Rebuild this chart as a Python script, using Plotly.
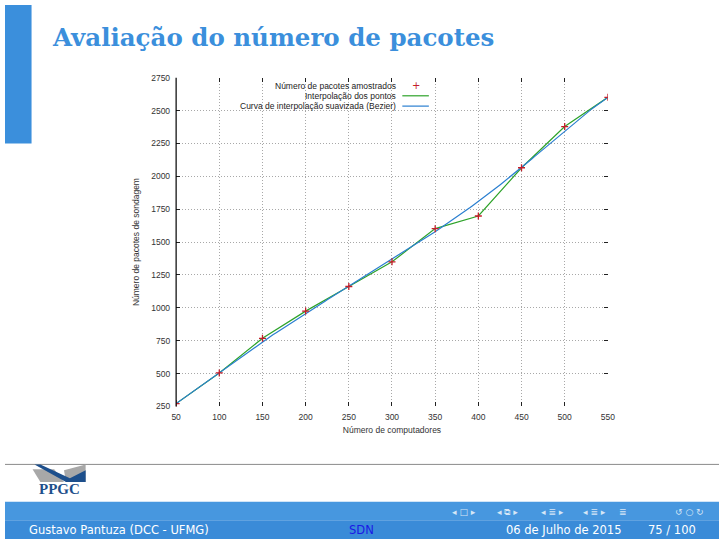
import plotly.graph_objects as go
from math import comb

# ---- data ----
computadores = [50, 100, 150, 200, 250, 300, 350, 400, 450, 500, 550]
pacotes = [272, 505, 768, 975, 1162, 1350, 1602, 1698, 2065, 2378, 2600]
x_ticks = [50, 100, 150, 200, 250, 300, 350, 400, 450, 500, 550]
y_ticks = [250, 500, 750, 1000, 1250, 1500, 1750, 2000, 2250, 2500, 2750]

nome_pontos = "Número de pacotes amostrados"
nome_interp = "Interpolação dos pontos"
nome_bezier = "Curva de interpolação suavizada (Bezier)"
titulo = "Avaliação do número de pacotes"
x_titulo = "Número de computadores"
y_titulo = "Número de pacotes de sondagem"

# Bezier curve using the samples as control points (gnuplot "smooth bezier")
n = len(computadores) - 1
bx, by = [], []
for k in range(201):
    t = k / 200
    w = [comb(n, i) * (1 - t) ** (n - i) * t ** i for i in range(n + 1)]
    bx.append(sum(wi * xi for wi, xi in zip(w, computadores)))
    by.append(sum(wi * yi for wi, yi in zip(w, pacotes)))

W, H = 726, 544
def px(x): return x / W
def py(y): return 1 - y / H

GREEN = "#2ea32a"
BLUE = "#2a7fd0"
RED = "#c41e2a"
SLIDE_BLUE = "#3b8fdc"

fig = go.Figure()
fig.add_trace(go.Scatter(x=computadores, y=pacotes, mode="lines",
                         line=dict(color=GREEN, width=1.2), showlegend=False))
fig.add_trace(go.Scatter(x=bx, y=by, mode="lines",
                         line=dict(color=BLUE, width=1.2), showlegend=False))
fig.add_trace(go.Scatter(x=computadores, y=pacotes, mode="markers",
                         marker=dict(symbol="cross-thin", size=5, color=RED,
                                     line=dict(color=RED, width=1.3)),
                         showlegend=False))

axis_font = dict(family="Liberation Sans", size=8.5, color="#333")
grid = dict(gridcolor="#a8a8a8", griddash="1px,2px", gridwidth=1)
fig.update_layout(
    width=W, height=H, margin=dict(l=0, r=0, t=0, b=0),
    paper_bgcolor="white", plot_bgcolor="white", showlegend=False,
    xaxis=dict(domain=[px(174), px(613)], range=[50, 550], tickvals=x_ticks,
               ticks="inside", ticklen=4, tickcolor="#222", mirror="ticks",
               showline=False, zeroline=False, showgrid=True, **grid,
               tickfont=axis_font, ticklabelstandoff=4,
               title=dict(text=x_titulo, font=axis_font, standoff=6)),
    yaxis=dict(domain=[py(409), py(74)], range=[250, 2750], tickvals=y_ticks,
               ticks="inside", ticklen=4, tickcolor="#222", mirror="ticks",
               showline=False, zeroline=False, showgrid=True, **grid,
               tickfont=axis_font, ticklabelstandoff=5,
               title=dict(text=y_titulo, font=axis_font, standoff=10)),
)

shapes = []
# left axis line
shapes.append(dict(type="line", xref="x domain", yref="y domain", x0=0, x1=0,
                   y0=0, y1=1, line=dict(color="black", width=1.2)))
# opaque key box
shapes.append(dict(type="rect", xref="paper", yref="paper", layer="between",
                   x0=px(240), x1=px(434), y0=py(106), y1=py(74.5),
                   fillcolor="white", line=dict(width=0)))
# key samples
shapes.append(dict(type="line", xref="paper", yref="paper", x0=px(404), x1=px(431),
                   y0=py(92.5), y1=py(92.5), line=dict(color=GREEN, width=1.2)))
shapes.append(dict(type="line", xref="paper", yref="paper", x0=px(404), x1=px(431),
                   y0=py(103), y1=py(103), line=dict(color=BLUE, width=1.2)))
# slide decorations
shapes.append(dict(type="rect", xref="paper", yref="paper", x0=0, x1=px(27),
                   y0=py(141), y1=1, fillcolor=SLIDE_BLUE, line=dict(width=0)))
shapes.append(dict(type="line", xref="paper", yref="paper", x0=0, x1=1,
                   y0=py(468), y1=py(468), line=dict(color="#8a8a8a", width=1)))
shapes.append(dict(type="rect", xref="paper", yref="paper", x0=0, x1=1,
                   y0=py(525), y1=py(506), fillcolor="#4797df", line=dict(width=0)))
shapes.append(dict(type="rect", xref="paper", yref="paper", x0=0, x1=1,
                   y0=0, y1=py(525), fillcolor="#3a8bd8", line=dict(width=0)))
# logo graphic
def path(pts):
    return "M " + " L ".join(f"{px(a)},{py(b)}" for a, b in pts) + " Z"
shapes.append(dict(type="path", xref="paper", yref="paper",
                   path=path([(28, 473), (50, 473), (60, 486), (36, 486)]),
                   fillcolor="#a8a8a8", line=dict(width=0)))
shapes.append(dict(type="path", xref="paper", yref="paper",
                   path=path([(60, 474), (82, 468), (82, 486), (62, 486)]),
                   fillcolor="#a8a8a8", line=dict(width=0)))
shapes.append(dict(type="path", xref="paper", yref="paper",
                   path=path([(30, 468), (36, 468), (66, 482), (82, 474), (82, 486), (62, 486)]),
                   fillcolor="#1d4f8c", line=dict(width=0)))
fig.update_layout(shapes=shapes)

ann = []
leg_font = dict(family="Liberation Sans", size=8.5, color="#222")
for txt, yy in [(nome_pontos, 82.5), (nome_interp, 92.5), (nome_bezier, 103)]:
    ann.append(dict(text=txt, x=px(400), y=py(yy), xref="paper", yref="paper",
                    xanchor="right", yanchor="middle", showarrow=False, font=leg_font))
ann.append(dict(text="+", x=px(418), y=py(82.5), xref="paper", yref="paper",
                xanchor="center", yanchor="middle", showarrow=False,
                font=dict(family="DejaVu Sans", size=10, color=RED)))
ann.append(dict(text="<b>" + titulo + "</b>", x=px(46), y=py(33), xref="paper", yref="paper",
                xanchor="left", yanchor="middle", showarrow=False,
                font=dict(family="DejaVu Serif", size=24.5, color=SLIDE_BLUE)))
ann.append(dict(text="<b>PPGC</b>", x=px(55), y=py(493), xref="paper", yref="paper",
                xanchor="center", yanchor="middle", showarrow=False,
                font=dict(family="Liberation Serif", size=15, color="#1d4f8c")))
foot = dict(family="DejaVu Sans", size=11.5, color="white")
ann.append(dict(text="Gustavo Pantuza (DCC - UFMG)", x=px(22), y=py(535), xref="paper",
                yref="paper", xanchor="left", yanchor="middle", showarrow=False, font=foot))
ann.append(dict(text="SDN", x=px(362), y=py(535), xref="paper", yref="paper",
                xanchor="center", yanchor="middle", showarrow=False,
                font=dict(family="DejaVu Sans", size=11.5, color="#1a1ae6")))
ann.append(dict(text="06 de Julho de 2015", x=px(628), y=py(535), xref="paper", yref="paper",
                xanchor="right", yanchor="middle", showarrow=False, font=foot))
ann.append(dict(text="75 / 100", x=px(705), y=py(535), xref="paper", yref="paper",
                xanchor="right", yanchor="middle", showarrow=False, font=foot))
nav = dict(family="DejaVu Sans", size=9, color="#d6e6f6")
for txt, xx in [("◂ □ ▸", 467), ("◂ ⧉ ▸", 511), ("◂ ≣ ▸", 557), ("◂ ≣ ▸", 599),
                ("≣", 628), ("↺ ○ ↻", 696)]:
    ann.append(dict(text=txt, x=px(xx), y=py(516), xref="paper", yref="paper",
                    xanchor="center", yanchor="middle", showarrow=False, font=nav))
fig.update_layout(annotations=ann)

fig.write_html("out.html", config={"displayModeBar": False},
               post_script="document.body.style.margin='0';"
                           "document.documentElement.style.overflow='hidden';"
                           "document.body.style.overflow='hidden';")
